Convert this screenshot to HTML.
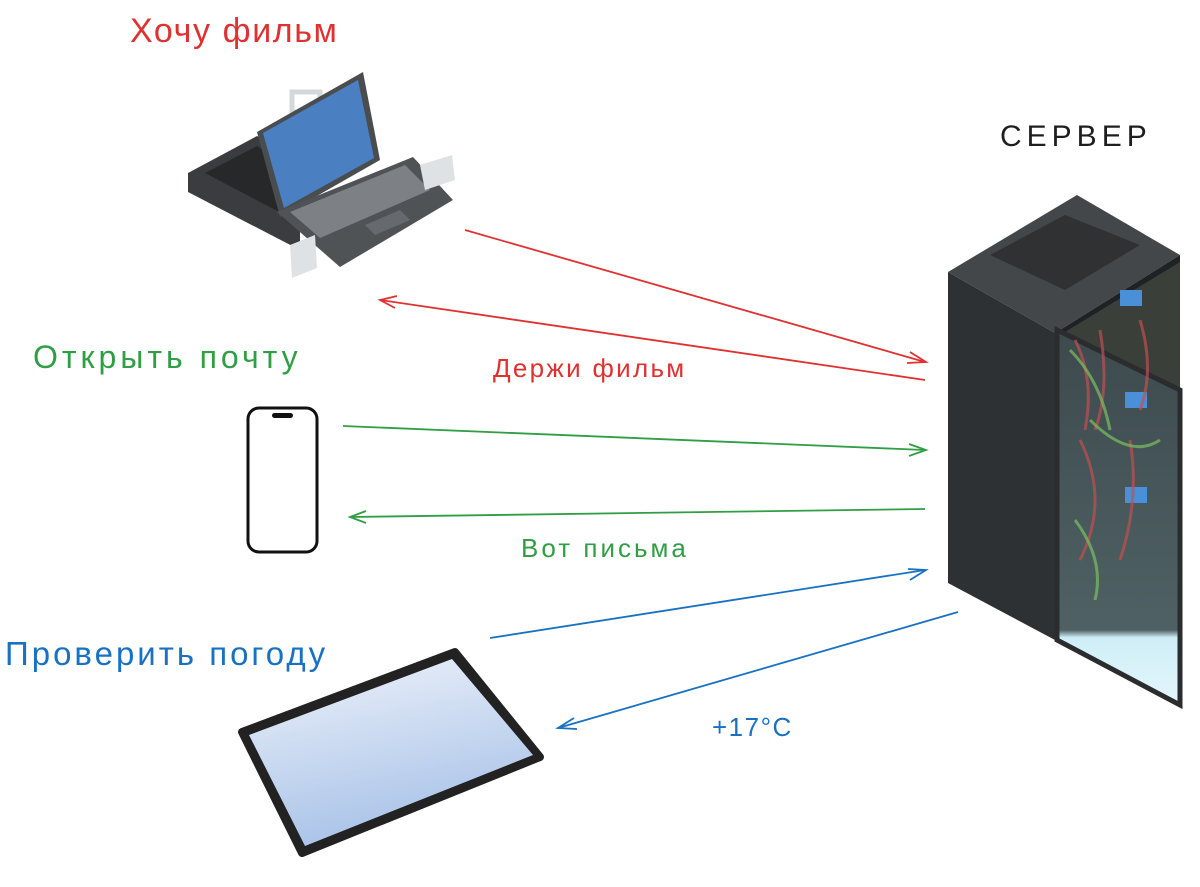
<!DOCTYPE html>
<html><head><meta charset="utf-8"><style>
html,body{margin:0;padding:0;background:#fff;}
svg{display:block}
text{font-family:"Liberation Sans","DejaVu Sans",sans-serif;}
</style></head><body>
<svg width="1200" height="887" viewBox="0 0 1200 887" xmlns="http://www.w3.org/2000/svg">
<defs>
<linearGradient id="tg" x1="0" y1="0" x2="0.3" y2="1"><stop offset="0" stop-color="#eef2fa"/><stop offset="1" stop-color="#a9c3e8"/></linearGradient>
<linearGradient id="gl" x1="0" y1="0" x2="0" y2="1"><stop offset="0" stop-color="#3d4a4e"/><stop offset="0.8" stop-color="#4f6164"/><stop offset="0.82" stop-color="#cfeef7"/><stop offset="1" stop-color="#e4f6fb"/></linearGradient>
</defs>
<text x="130" y="42" font-size="34" fill="#e03131" letter-spacing="1.6">Хочу фильм</text>
<text x="1000" y="146" font-size="30" fill="#1e1e1e" letter-spacing="5">СЕРВЕР</text>
<text x="33" y="368" font-size="32" fill="#2f9e44" letter-spacing="4">Открыть почту</text>
<text x="493" y="377" font-size="26" fill="#e03131" letter-spacing="2.3">Держи фильм</text>
<text x="521" y="557" font-size="26" fill="#2f9e44" letter-spacing="3">Вот письма</text>
<text x="5" y="665" font-size="33" fill="#1971c2" letter-spacing="3">Проверить погоду</text>
<text x="712" y="736" font-size="26" fill="#1971c2" letter-spacing="1.5">+17°C</text>

<!-- laptop -->
<rect x="292" y="92" width="28" height="20" fill="none" stroke="#d5d8da" stroke-width="5"/>
<polygon points="188,173 257,136 300,160 300,250 188,192" fill="#3a3c3f"/>
<polygon points="205,173 257,146 285,165 285,215" fill="#26282a"/>
<polygon points="257,132 363,72 380,160 280,217" fill="#4a4d50"/>
<polygon points="263,133 358,80 374,158 284,208" fill="#4a7fc1"/>
<polygon points="277,212 413,157 453,200 340,267" fill="#505356"/>
<polygon points="290,212 405,165 430,190 320,238" fill="#7d8185"/>
<polygon points="365,225 400,210 410,220 375,235" fill="#666a6e"/>
<polygon points="420,165 452,155 455,180 425,190" fill="#dfe2e4"/>
<polygon points="290,245 315,235 317,268 292,278" fill="#dfe2e4"/>

<!-- server -->
<polygon points="948,272 1077,195 1180,255 1055,333" fill="#444749"/>
<polygon points="990,255 1065,215 1140,245 1065,290" fill="#2f3133"/>
<polygon points="948,272 1055,333 1055,640 948,583" fill="#2e3133"/>
<polygon points="1055,333 1180,255 1180,700 1055,640" fill="#1f2224"/>
<polygon points="1060,335 1180,262 1180,390 1060,330" fill="#3b3f3a"/>
<polygon points="1057,330 1180,390 1180,705 1057,640" fill="url(#gl)" stroke="#2a2c2e" stroke-width="5"/>
<rect x="1120" y="290" width="22" height="16" fill="#4a90d9"/>
<rect x="1125" y="392" width="22" height="16" fill="#4a90d9"/>
<rect x="1125" y="487" width="22" height="16" fill="#4a90d9"/>
<path d="M1075 340 q20 40 10 90 M1100 330 q10 60 -5 100 M1140 320 q15 50 0 90 M1080 440 q30 60 0 120 M1130 440 q10 60 -10 120" stroke="#c05050" stroke-width="3" fill="none" opacity="0.7"/>
<path d="M1070 350 q30 30 40 80 M1090 420 q40 40 70 20 M1075 520 q30 40 20 80" stroke="#7ac060" stroke-width="3" fill="none" opacity="0.7"/>

<!-- phone -->
<rect x="248" y="408" width="69" height="144" rx="11" fill="#fff" stroke="#111" stroke-width="3"/>
<rect x="272" y="413" width="21" height="5" rx="2.5" fill="#111"/>

<!-- tablet -->
<polygon points="242,732 455,652 540,757 302,853" fill="#222" stroke="#222" stroke-width="8" stroke-linejoin="round"/>
<polygon points="249,735 452,659 533,755 305,846" fill="url(#tg)"/>

<!-- arrows -->
<g stroke-width="1.8" fill="none">
<line x1="465" y1="230" x2="925" y2="362" stroke="#e03131"/>
<path d="M910 352 L926 362 L907 363" stroke="#e03131"/>
<line x1="925" y1="380" x2="380" y2="300" stroke="#e03131"/>
<path d="M397 296 L380 300 L395 308" stroke="#e03131"/>
<line x1="343" y1="426" x2="925" y2="450" stroke="#2f9e44"/>
<path d="M909 444 L926 450 L909 456" stroke="#2f9e44"/>
<line x1="925" y1="509" x2="350" y2="517" stroke="#2f9e44"/>
<path d="M366 511 L350 517 L366 523" stroke="#2f9e44"/>
<line x1="490" y1="638" x2="925" y2="570" stroke="#1971c2"/>
<path d="M908 569 L926 570 L910 580" stroke="#1971c2"/>
<line x1="958" y1="612" x2="558" y2="728" stroke="#1971c2"/>
<path d="M574 718 L558 728 L577 729" stroke="#1971c2"/>
</g>
</svg>
</body></html>
